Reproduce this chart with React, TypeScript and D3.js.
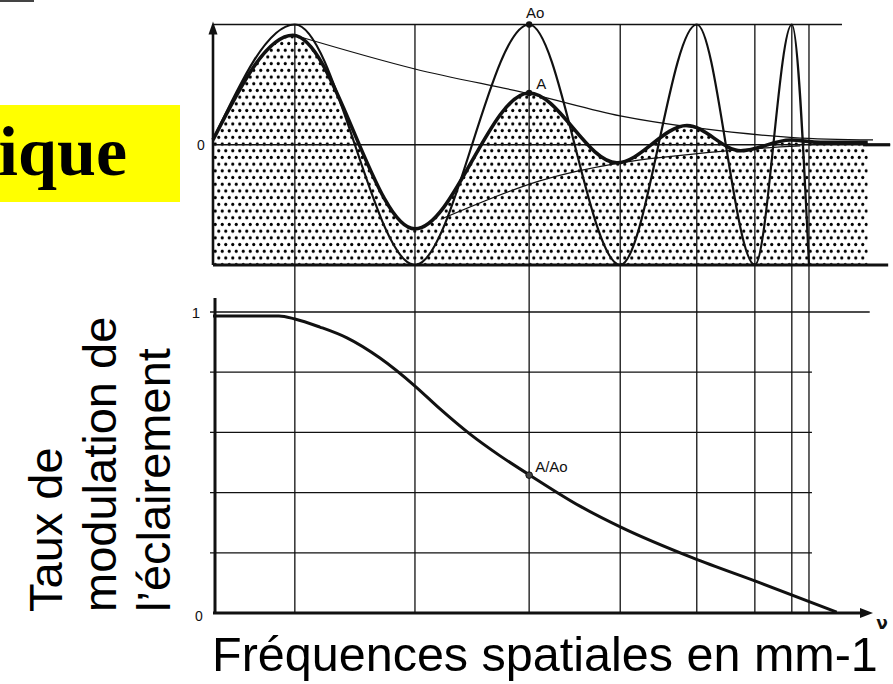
import React from 'react';
import * as d3 from 'd3';

const W = 893;
const H = 684;

// Spatial frequency (arbitrary units, origin = 0) of the vertical construction lines
const gridFreqs = [1.24, 3.06, 4.79, 6.17, 7.33, 8.21, 8.77, 9.03];

// Object test pattern (amplitude Ao), extrema of the chirped sinusoid, normalised -1..1
const objectWave: [number, number][] = [
  [0, 0.04], [1.24, 1], [3.06, -1], [4.79, 1], [6.17, -1], [7.33, 1], [8.21, -1], [8.77, 1], [9.03, -1],
];

// Image of the pattern (amplitude A), attenuated
const imageWave: [number, number][] = [
  [0, 0.04], [1.21, 0.91], [3.06, -0.7], [4.79, 0.43], [6.12, -0.15], [7.18, 0.16], [8.0, -0.05], [8.75, 0.04], [9.2, 0.02], [9.92, 0.02],
];

const upperEnvelope: [number, number][] = [
  [1.3, 0.9], [3.06, 0.63], [4.79, 0.425], [6.17, 0.24], [7.33, 0.14], [8.79, 0.06], [10, 0.04],
];
const lowerEnvelope: [number, number][] = [
  [3.45, -0.62], [4.95, -0.3], [6.17, -0.15], [7.79, -0.05], [8.9, -0.01],
];

// Modulation transfer (A/Ao) vs spatial frequency
const mtf: [number, number][] = [
  [0, 0.987], [1.0, 0.987], [1.24, 0.977], [1.62, 0.95], [2.03, 0.914], [2.53, 0.847], [3.06, 0.754],
  [3.44, 0.678], [3.89, 0.595], [4.35, 0.522], [4.8, 0.458], [5.56, 0.355], [6.21, 0.282], [7.27, 0.183],
  [8.29, 0.1], [9.45, 0.003],
];
const mtfTicks = [0.2, 0.4, 0.6, 0.8, 1];

const markerFreq = 4.79;
const markerAo = 1;
const markerA = 0.43;
const markerRatio = 0.458;

const yLabelLines = ['Taux de', 'modulation de', "l\u2019éclairement"];
const xLabel = 'Fréquences spatiales en mm-1';

export default function App() {
  const x = d3.scaleLinear().domain([0, 10]).range([213, 873]);
  const yT = d3.scaleLinear().domain([-1, 1]).range([265, 24.5]);
  const yB = d3.scaleLinear().domain([0, 1]).range([613, 312]);

  const lineT = d3.line<[number, number]>().x(d => x(d[0])).y(d => yT(d[1])).curve(d3.curveMonotoneX);
  const envT = d3.line<[number, number]>().x(d => x(d[0])).y(d => yT(d[1])).curve(d3.curveCatmullRom.alpha(0.5));
  const lineB = d3.line<[number, number]>().x(d => x(d[0])).y(d => yB(d[1])).curve(d3.curveMonotoneX);
  const areaT = d3.area<[number, number]>().x(d => x(d[0])).y0(yT(-1)).y1(d => yT(d[1])).curve(d3.curveMonotoneX);

  const ink = '#111';

  return (
    <svg width={W} height={H} style={{ position: 'fixed', left: 0, top: 0, background: '#fff' }}>
      <defs>
        <pattern id="dots" width={7} height={13.4} patternUnits="userSpaceOnUse">
          <circle cx={1.75} cy={3.35} r={1.6} fill="#000" />
          <circle cx={5.25} cy={10.05} r={1.6} fill="#000" />
        </pattern>
      </defs>

      {/* slide remnants */}
      <rect x={0} y={0} width={34} height={2} fill="#444" />
      <rect x={0} y={105} width={180} height={97} fill="#ffff00" />
      <text x={127} y={175} textAnchor="end" fontFamily="'Liberation Serif', serif" fontWeight="bold" fontSize={70} fill="#000">ique</text>

      {/* ===== Top panel ===== */}
      <path d={areaT(imageWave) || ''} fill="url(#dots)" />

      {gridFreqs.map((f, i) => (
        <line key={i} x1={x(f)} x2={x(f)} y1={yT(1)} y2={yB(0)} stroke={ink} strokeWidth={1.3} />
      ))}

      <line x1={x(0)} x2={x(9.53)} y1={yT(1)} y2={yT(1)} stroke={ink} strokeWidth={1.4} />
      <line x1={x(0)} x2={x(10.26)} y1={yT(0)} y2={yT(0)} stroke={ink} strokeWidth={1.3} />
      <line x1={x(9.85)} x2={x(10.26)} y1={yT(0)} y2={yT(0)} stroke={ink} strokeWidth={3.2} />
      <line x1={x(0)} x2={x(10.23)} y1={yT(-1)} y2={yT(-1)} stroke={ink} strokeWidth={3.2} />

      <line x1={x(0)} x2={x(0)} y1={yT(-1)} y2={yT(1) + 8} stroke={ink} strokeWidth={2.6} />
      <path d={`M${x(0)},${yT(1) - 3} l-4.5,13 l9,0 z`} fill={ink} />

      <path d={envT(upperEnvelope) || ''} fill="none" stroke={ink} strokeWidth={1.2} />
      <path d={envT(lowerEnvelope) || ''} fill="none" stroke={ink} strokeWidth={1.2} />
      <path d={lineT(objectWave) || ''} fill="none" stroke={ink} strokeWidth={2.2} />
      <path d={lineT(imageWave) || ''} fill="none" stroke={ink} strokeWidth={3.6} />

      <circle cx={x(markerFreq)} cy={yT(markerAo)} r={3.2} fill={ink} />
      <circle cx={x(markerFreq)} cy={yT(markerA)} r={3.2} fill={ink} />
      <text x={x(markerFreq) + 6} y={18} textAnchor="middle" fontFamily="'Liberation Sans', Arial, sans-serif" fontSize={15} fill={ink}>Ao</text>
      <text x={x(markerFreq) + 7} y={89} fontFamily="'Liberation Sans', Arial, sans-serif" fontSize={15} fill={ink}>A</text>
      <text x={x(0) - 12} y={yT(0) + 5} textAnchor="middle" fontFamily="'Liberation Sans', Arial, sans-serif" fontSize={14} fill={ink}>0</text>

      {/* ===== Bottom panel ===== */}
      {mtfTicks.map((t, i) => (
        <line key={i} x1={x(0) - 3} x2={t === 1 ? x(9.95) : x(9.03) + 3} y1={yB(t)} y2={yB(t)} stroke={ink} strokeWidth={1.3} />
      ))}
      <line x1={x(0) + 2} x2={x(0) + 2} y1={298} y2={yB(0) + 1} stroke={ink} strokeWidth={3} />
      <line x1={x(0)} x2={x(9.9)} y1={yB(0)} y2={yB(0)} stroke={ink} strokeWidth={3} />
      <path d={`M${x(10)},${yB(0)} l-13,-5 l0,10 z`} fill={ink} />
      <text x={x(10) + 9} y={yB(0) + 16} textAnchor="middle" fontFamily="'DejaVu Sans', sans-serif" fontWeight="bold" fontSize={17} fill={ink}>ν</text>

      <path d={lineB(mtf) || ''} fill="none" stroke={ink} strokeWidth={3} />
      <circle cx={x(markerFreq)} cy={yB(markerRatio)} r={3.3} fill="#444" stroke={ink} strokeWidth={1} />
      <text x={x(markerFreq) + 6} y={yB(markerRatio) - 3} fontFamily="'Liberation Sans', Arial, sans-serif" fontSize={15} fill={ink}>A/Ao</text>

      <text x={x(0) - 17} y={yB(1) + 6} textAnchor="middle" fontFamily="'Liberation Sans', Arial, sans-serif" fontSize={15} fill={ink}>1</text>
      <text x={x(0) - 14} y={yB(0) + 8} textAnchor="middle" fontFamily="'Liberation Sans', Arial, sans-serif" fontSize={14} fill={ink}>0</text>

      {/* axis titles */}
      {yLabelLines.map((s, i) => (
        <text key={i} transform={`translate(${62 + i * 54},612) rotate(-90)`} fontFamily="'Liberation Sans', Arial, sans-serif" fontSize={47} fill="#000">{s}</text>
      ))}
      <text x={212} y={671} fontFamily="'Liberation Sans', Arial, sans-serif" fontSize={48.5} fill="#000">{xLabel}</text>
    </svg>
  );
}
